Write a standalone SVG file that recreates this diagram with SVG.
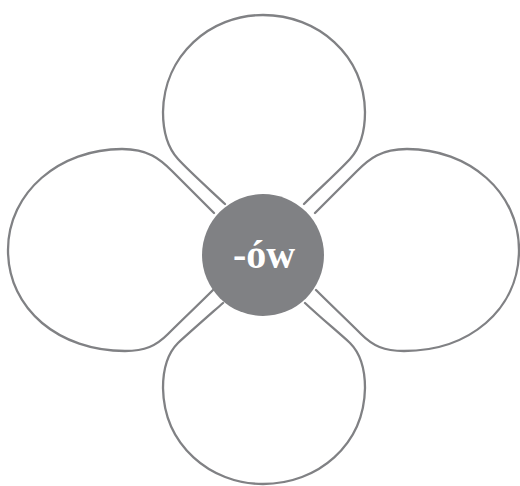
<svg xmlns="http://www.w3.org/2000/svg" width="520" height="486" viewBox="0 0 520 486">
<style>
.petal{fill:none;stroke:#808184;stroke-width:2.3;stroke-linejoin:round;stroke-linecap:round}
.hub{fill:#808184}
.lbl{font-family:"Liberation Serif","Times New Roman",serif;font-weight:bold;font-size:40px;fill:#ffffff;text-anchor:middle}
</style>
<rect width="520" height="486" fill="#ffffff"/>
<g id="connectors"></g>
<g id="petal-top">
<path class="petal" d="M 225 204 C 208 188 190 172 178 159 C 167 147 163 132 163 112 C 164 55 210 15 263 15 C 318 15 364 55 365 112 C 365 132 361 147 350 159 C 338 172 320 188 304 204"/>
</g>
<g id="petal-left">
<path class="petal" d="M 214 213 C 198 197 184 183 172 171 C 160 159 148 149 122 149 C 60 149 8 192 8 250 C 8 310 60 351 125 351 C 145 351 156 346 168 334 C 182 320 198 305 213 290"/>
</g>
<g id="petal-right">
<path class="petal" d="M 315 213 C 331 197 345 183 357 171 C 369 159 381 149 407 149 C 469 149 519 192 519 250 C 519 310 469 351 404 351 C 384 351 373 346 361 334 C 347 320 331 305 316 290"/>
</g>
<g id="petal-bottom">
<path class="petal" d="M 223 303 C 206 318 190 332 178 343 C 167 354 163 368 163 388 C 164 445 210 484 263 484 C 318 484 364 445 365 388 C 365 368 361 354 350 343 C 338 332 321 318 305 303"/>
</g>
<g id="center">
<circle class="hub" cx="263" cy="255" r="61"/>
<text class="lbl" x="264" y="268">-ów</text>
</g>
</svg>
